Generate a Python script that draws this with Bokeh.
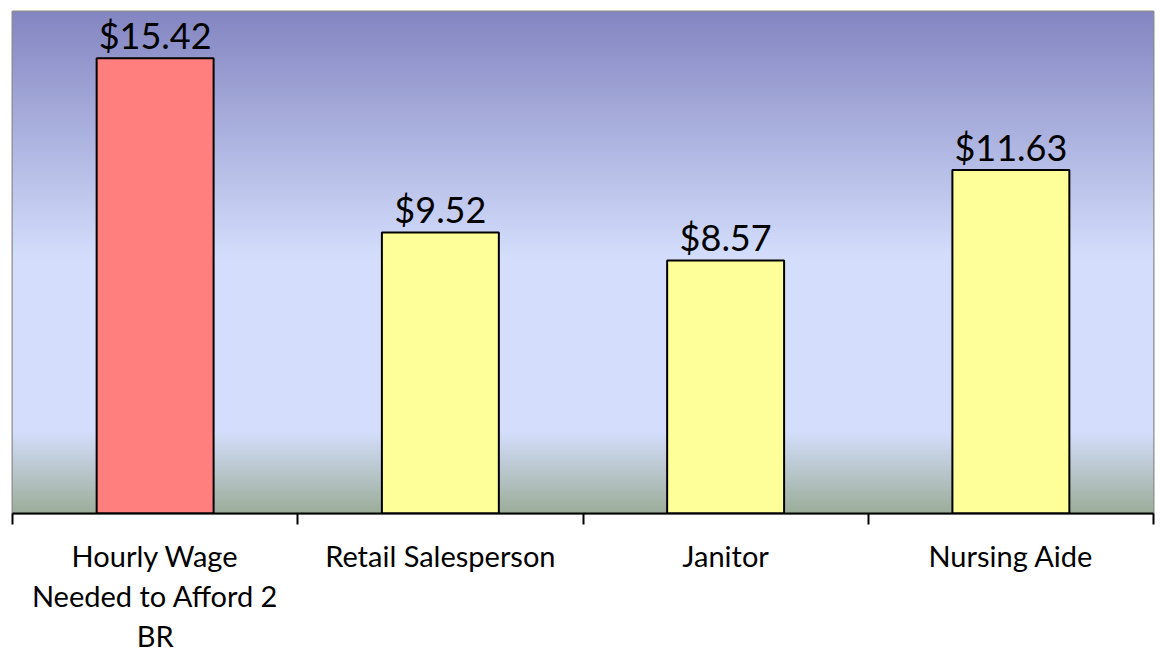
import numpy as np
from bokeh.plotting import figure
from bokeh.models import FixedTicker, Range1d, ColumnDataSource
from bokeh.core.properties import value
from bokeh.embed import file_html
from bokeh.resources import INLINE

categories = ["Hourly Wage\nNeeded to Afford 2\nBR", "Retail Salesperson", "Janitor", "Nursing Aide"]
wages = [15.42, 9.52, 8.57, 11.63]
wage_labels = ["$15.42", "$9.52", "$8.57", "$11.63"]
bar_colors = ["#FF7F7F", "#FFFF99", "#FFFF99", "#FFFF99"]

Y_MAX = 17.0
n = len(categories)
centers = [i + 0.5 for i in range(n)]

p = figure(width=1160, height=656, output_backend="svg", toolbar_location=None,
           x_range=Range1d(0, n), y_range=Range1d(0, Y_MAX),
           min_border_left=12, min_border_right=7, min_border_top=11, min_border_bottom=0)

# background gradient (top purple -> light blue -> grey-green at bottom)
H = 505
stops_pos = [0.0, 0.49, 0.84, 1.0]  # from top
stops_col = [(0x84, 0x86, 0xC2), (0xD4, 0xDE, 0xFC), (0xD4, 0xDE, 0xFC), (0x9C, 0xAE, 0x9A)]
t = np.linspace(0, 1, H)
rgb = np.zeros((H, 3))
for c in range(3):
    rgb[:, c] = np.interp(t, stops_pos, [s[c] for s in stops_col])
rgb = rgb[::-1]  # row 0 = bottom
img = np.zeros((H, 1), dtype=np.uint32)
view = img.view(dtype=np.uint8).reshape((H, 1, 4))
view[:, 0, 0] = rgb[:, 0].astype(np.uint8)
view[:, 0, 1] = rgb[:, 1].astype(np.uint8)
view[:, 0, 2] = rgb[:, 2].astype(np.uint8)
view[:, 0, 3] = 255
p.image_rgba(image=[img], x=0, y=0, dw=n, dh=Y_MAX)

src = ColumnDataSource(dict(x=centers, top=wages, color=bar_colors, label=wage_labels))
p.vbar(x="x", top="top", width=0.41, bottom=0, source=src, fill_color="color",
       line_color="black", line_width=2)
p.text(x="x", y="top", text="label", source=src, text_align="center", text_baseline="bottom",
       y_offset=-1, text_font=value("Lato"), text_font_size="36px", text_color="black")

p.grid.visible = False
p.yaxis.visible = False
p.outline_line_color = "#8c8c8c"
p.outline_line_width = 2
p.background_fill_color = "white"
p.border_fill_color = "white"

ax = p.xaxis[0]
ax.ticker = FixedTicker(ticks=centers, minor_ticks=list(range(n + 1)))
ax.major_label_overrides = {c: lab for c, lab in zip(centers, categories)}
ax.major_tick_out = 0
ax.major_tick_in = 0
ax.minor_tick_out = 11
ax.minor_tick_in = 0
ax.minor_tick_line_color = "black"
ax.minor_tick_line_width = 2
ax.axis_line_color = "black"
ax.axis_line_width = 2
ax.major_label_standoff = 13
ax.major_label_text_font = "Lato"
ax.major_label_text_font_size = "29px"
ax.major_label_text_color = "black"
ax.major_label_text_line_height = 1.15

open("out.html", "w").write(file_html(p, INLINE))
